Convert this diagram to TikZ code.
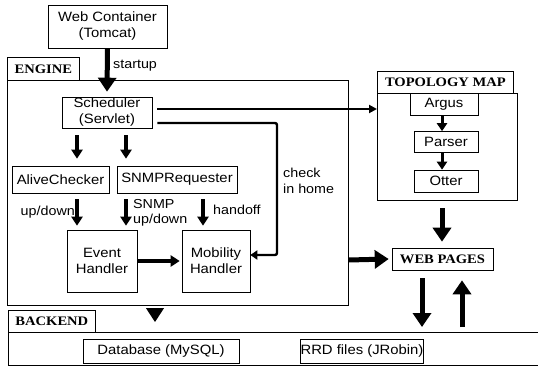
\documentclass[tikz,border=0pt]{standalone}
\usepackage{fontspec}
\setmainfont[FakeStretch=1.1]{Liberation Sans}
\newfontfamily\capsfont[FakeStretch=1.12]{Liberation Serif}
\usetikzlibrary{arrows.meta}
\tikzset{
  box/.style={draw, line width=0.6pt, inner sep=0pt, align=center,
    font=\fontsize{13.5}{16}\selectfont},
  frame/.style={draw, line width=0.7pt, inner sep=0pt},
  tag/.style={draw, line width=0.7pt, inner sep=0pt, anchor=north west,
    font=\capsfont\bfseries\fontsize{13}{15}\selectfont},
  lbl/.style={inner sep=0pt, align=left, font=\fontsize{13}{15.5}\selectfont},
  big/.style={line width=5pt, -{Triangle[length=14pt,width=18pt]}},
  mid/.style={line width=3.2pt, -{Triangle[length=9pt,width=11pt]}},
  small/.style={line width=3pt, -{Triangle[length=8pt,width=10pt]}},
  thin/.style={line width=2pt, -{Triangle[length=8pt,width=8pt]}},
}
\begin{document}
\begin{tikzpicture}[x=1pt,y=-1pt]
\useasboundingbox (0,0) rectangle (538,367);

% ---- top: web container
\node[box, minimum width=119pt, minimum height=43pt] (web) at (107.5,26.5) {Web Container\\(Tomcat)};

% ---- engine frame
\node[tag, minimum width=72pt, minimum height=23pt] (engtag) at (7,57) {ENGINE};
\node[frame, anchor=north west, minimum width=341pt, minimum height=225pt] (engine) at (7,80) {};

\node[box, minimum width=90pt, minimum height=31pt] (sched) at (107,112.5) {Scheduler\\(Servlet)};
\node[box, minimum width=97pt, minimum height=27pt] (alive) at (60.5,179.5) {AliveChecker};
\node[box, minimum width=120pt, minimum height=27pt] (snmp) at (177,179.5) {SNMPRequester};
\node[box, minimum width=70pt, minimum height=62pt] (event) at (102,261) {Event\\Handler};
\node[box, minimum width=68pt, minimum height=62pt] (mob) at (216,261) {Mobility\\Handler};

% ---- topology map frame
\node[tag, minimum width=136pt, minimum height=22pt] (topotag) at (377,71) {TOPOLOGY MAP};
\node[frame, anchor=north west, minimum width=140pt, minimum height=107pt] (topo) at (377,93) {};
\node[box, minimum width=68pt, minimum height=22pt] (argus) at (444,104) {Argus};
\node[box, minimum width=64pt, minimum height=21pt] (parser) at (446,142) {Parser};
\node[box, minimum width=64pt, minimum height=22pt] (otter) at (446,181) {Otter};

\node[box, minimum width=101pt, minimum height=22pt,
  font=\capsfont\bfseries\fontsize{13}{15}\selectfont] (pages) at (442.5,259) {WEB PAGES};

% ---- backend frame (open on the right)
\node[tag, minimum width=87pt, minimum height=22pt] (backtag) at (8,310) {BACKEND};
\coordinate (bkTL) at (8,332);
\coordinate (bkBL) at (8,365);
\draw[line width=0.7pt] (538,332) -- (bkTL) -- (bkBL) -- (538,365);
\node[box, minimum width=156pt, minimum height=24pt] (db) at (161,351) {Database (MySQL)};
\node[box, minimum width=90pt, minimum height=24pt] (rrd) at (362,351) {RRD files (JRobin)};

% ---- connectors (yshift is in page direction: negative moves down)
\draw[big] (web.south) -- ([yshift=5pt]sched.north);
\node[lbl, anchor=west] (startlbl) at (113,66) {startup};

\draw[mid] ([yshift=-7pt]sched.south -| 77,0) -- ([yshift=7pt]alive.north -| 77,0);
\draw[mid] ([yshift=-7pt]sched.south -| 126,0) -- ([yshift=7pt]snmp.north -| 126,0);
\draw[mid] ([yshift=-6pt]alive.south -| 77,0) -- ([yshift=4pt]event.north -| 77,0);
\draw[mid] ([yshift=-6pt]snmp.south -| 126,0) -- ([yshift=4pt]event.north -| 126,0);
\draw[mid] ([yshift=-6pt]snmp.south -| 203,0) -- ([yshift=4pt]mob.north -| 203,0);
\node[lbl, anchor=east] (updown) at (75,212) {up/down};
\node[lbl, anchor=west] (snmplbl) at (133,213) {SNMP\\up/down};
\node[lbl, anchor=west] (handlbl) at (213,210) {handoff};

\draw[mid] (event.east) -- ([xshift=-2pt]mob.west);

\draw[thin] ([xshift=5pt]sched.east |- 0,109) -- (topo.west |- 0,109);
\draw[line width=2.4pt, rounded corners=2pt, -{Triangle[length=7pt,width=9pt]}]
  ([xshift=5pt]sched.east |- 0,123) -- (277,123) -- (277,255) -- (mob.east |- 0,255);
\node[lbl, anchor=west] (chklbl) at (283,181) {check\\in home};

\draw[big] (engine.east |- 0,260) -- ([xshift=-3pt]pages.west);
\draw[small] (argus.south -| 442,0) -- (parser.north -| 442,0);
\draw[small] (parser.south -| 442,0) -- (otter.north -| 442,0);
\draw[big] ([yshift=-16pt]otter.south -| 442,0) -- ([yshift=6pt]pages.north -| 442,0);
\draw[big] ([yshift=-8pt]pages.south -| 422,0) -- (422,327);
\draw[big] (462,327) -- ([yshift=-10pt]pages.south -| 462,0);
\draw[line width=1pt, -{Triangle[length=14pt,width=18pt]}] (155,308) -- (155,322);
\end{tikzpicture}
\end{document}
